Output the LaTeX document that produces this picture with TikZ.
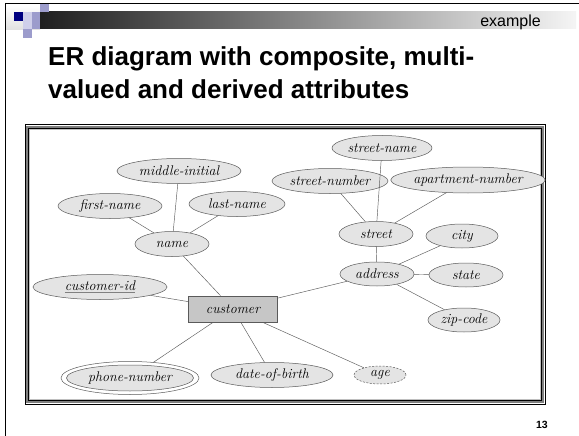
\documentclass[tikz,border=0pt]{standalone}
\usepackage{fontspec}
\usetikzlibrary{shapes.geometric}
\newfontfamily\headfont{Liberation Sans}
\definecolor{navylogo}{HTML}{000080}
\definecolor{lavlight}{HTML}{CFCFEA}
\definecolor{lavmid}{HTML}{9C9CCC}
\definecolor{attrfill}{HTML}{E4E4E4}
\definecolor{entfill}{HTML}{C6C6C6}
\definecolor{edgecol}{HTML}{5A5A5A}
\begin{document}
\begin{tikzpicture}[x=1pt,y=-1pt,
  attr/.style={ellipse, draw=edgecol, fill=attrfill, line width=0.5pt, inner sep=0pt,
    font=\fontsize{14}{16}\selectfont\itshape},
  sz/.style 2 args={minimum width=#1pt, minimum height=#2pt},
  entity/.style={rectangle, draw=edgecol, fill=entfill, line width=0.6pt, inner sep=0pt,
    font=\fontsize{14}{16}\selectfont\itshape},
  link/.style={draw=edgecol, line width=0.45pt},
  slidetext/.style={inner sep=0pt, anchor=base west}]

% page
\useasboundingbox (0,0) rectangle (579,436);
\fill[white] (0,0) rectangle (579,436);

% slide header: rules, logo squares and gradient bar
\shade[top color=white, bottom color=black!12] (6,5) rectangle (40,30);
\shade[left color=black!88, right color=black!4] (40,12) rectangle (576,29);
\fill[lavmid] (40,3) rectangle (49,12);
\fill[navylogo] (14,12) rectangle (23,21);
\fill[lavlight] (23,12) rectangle (32,21);
\fill[lavmid] (32,12) rectangle (40,21);
\fill[lavlight] (23,21) rectangle (32,29);
\fill[lavmid] (32,21) rectangle (40,29);
\fill[lavmid] (23,29) rectangle (32,38);
\draw[black, line width=1.8pt] (5,3.5) -- (579,3.5);
\draw[black, line width=1.8pt] (5.5,3) -- (5.5,436);

\node[slidetext, anchor=base east, font=\headfont\fontsize{16}{18}\selectfont] (tag) at (541,27) {example};
\node[slidetext, font=\headfont\bfseries\fontsize{26}{30}\selectfont] (title1) at (48,66) {ER diagram with composite, multi-};
\node[slidetext, font=\headfont\bfseries\fontsize{26}{30}\selectfont] (title2) at (48,99) {valued and derived attributes};
\node[slidetext, anchor=base east, font=\headfont\bfseries\fontsize{10.5}{12}\selectfont] (pageno) at (548,428) {13};

% figure frame
\draw[black, line width=1pt] (25,125) rectangle (545,404);
\draw[gray, line width=1.6pt] (26.8,126.8) rectangle (543.2,402.2);
\draw[black, line width=0.8pt] (28.6,128.6) rectangle (541.4,400.4);
\draw[black!25, line width=0.4pt] (29.6,129.6) rectangle (540.4,399.4);

% entity
\node[entity, minimum width=89pt, minimum height=26pt] (customer) at (233,309) {customer};

% composite attribute name
\node[attr, sz={74}{25}] (name) at (172,244) {name};
\node[attr, sz={124}{25}] (mid) at (179,171) {middle-initial};
\node[attr, sz={104}{25}] (first) at (110,206) {first-name};
\node[attr, sz={96}{25}] (last) at (237,204) {last-name};

% key attribute
\node[attr, sz={134}{25}] (cid) at (100,287) {{\color{gray}\underline{\color{black}customer-id}}};

% composite attribute address
\node[attr, sz={74}{24}] (address) at (377,274) {address};
\node[attr, sz={74}{25}] (street) at (376,234) {street};
\node[attr, sz={100}{25}] (sname) at (382,148) {street-name};
\node[attr, sz={116}{25}] (snum) at (330,181) {street-number};
\node[attr, sz={142}{26}] (apt) at (468,180) {apartment-number};
\node[attr, sz={72}{24}] (city) at (462,236) {city};
\node[attr, sz={74}{24}] (state) at (466,275) {state};
\node[attr, sz={72}{24}] (zip) at (464,320) {zip-code};

% multivalued, plain and derived attributes
\node[ellipse, draw=edgecol, fill=white, line width=0.5pt, sz={138}{33}] (phone) at (130,378) {};
\node[attr, sz={127}{26}] (phonein) at (phone.center) {phone-number};
\node[attr, sz={122}{25}] (dob) at (272,375) {date-of-birth};
\node[attr, sz={52}{18}, dashed, dash pattern=on 2pt off 1.5pt] (age) at (380,375) {age};

% connectors
\path[link] (first) -- (name);
\path[link] (mid) -- (name);
\path[link] (last) -- (name);
\path[link] (name) -- (customer);
\path[link] (cid) -- (customer);
\path[link] (sname) -- (street);
\path[link] (snum) -- (street);
\path[link] (apt) -- (street);
\path[link] (street) -- (address);
\path[link] (city) -- (address);
\path[link] (state) -- (address);
\path[link] (zip) -- (address);
\path[link] (address) -- (customer);
\path[link] (customer) -- (phone);
\path[link] (customer) -- (dob);
\path[link] (customer) -- (age);
\end{tikzpicture}
\end{document}
